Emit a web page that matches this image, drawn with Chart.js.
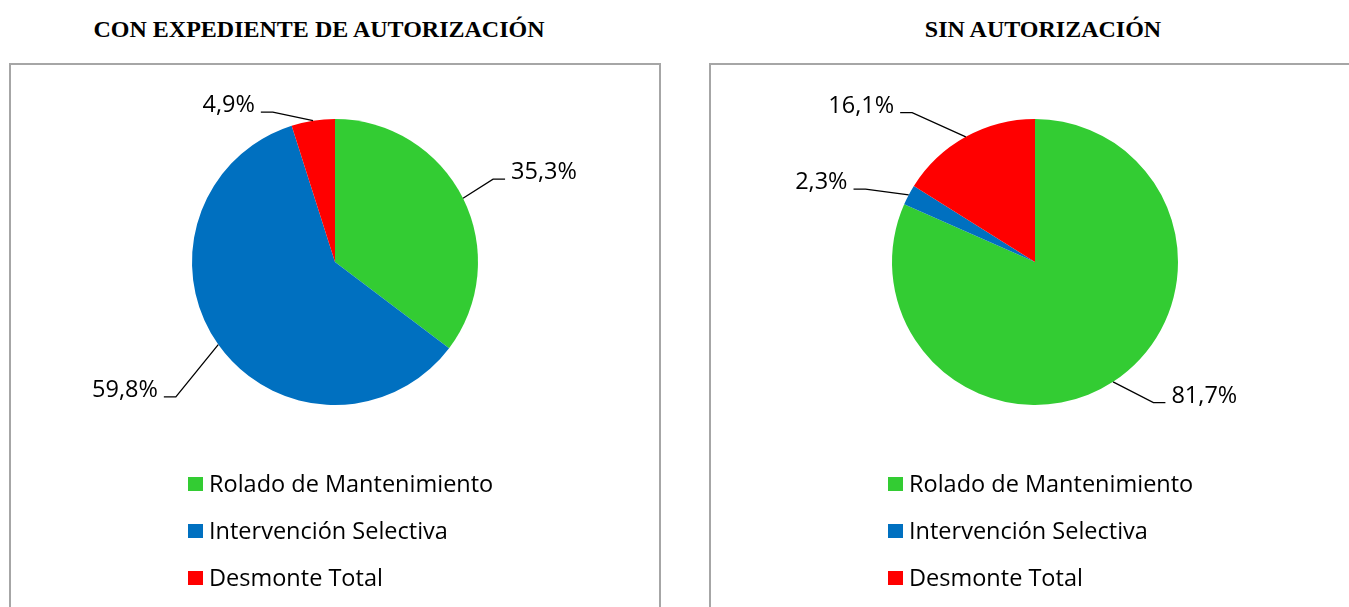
<!DOCTYPE html>
<html><head><meta charset="utf-8">
<script src="https://cdn.jsdelivr.net/npm/chart.js@4"></script>
<style>
html,body{margin:0;padding:0;background:#fff;overflow:hidden;width:1349px;height:607px;}
.title{position:absolute;font-family:"Liberation Serif","Times New Roman",serif;font-weight:bold;font-size:24px;line-height:28px;color:#000;white-space:nowrap;transform:translateX(-50%);top:15px;}
.box{position:absolute;top:63px;width:648px;height:560px;border:2px solid #a6a6a6;}
canvas{display:block;}
</style></head><body>
<div class="title" id="t1" style="left:319px"></div>
<div class="title" id="t2" style="left:1043px"></div>
<div class="box" style="left:9px"><canvas id="c1" width="648" height="542"></canvas></div>
<div class="box" style="left:709px"><canvas id="c2" width="648" height="542"></canvas></div>
<script>
const categories = ["Rolado de Mantenimiento", "Intervención Selectiva", "Desmonte Total"];
const conExpediente = [35.3, 59.8, 4.9];
const sinAutorizacion = [81.7, 2.3, 16.1];
const chartTitles = ["CON EXPEDIENTE DE AUTORIZACIÓN", "SIN AUTORIZACIÓN"];
const sliceColors = ["#33CC33", "#0070C0", "#FF0000"];
// leader-line layout: radial factor of elbow, angle tweak (deg)
const layoutCon = [{k:1.248, da:-1.2}, {k:1.459, da:-5}, {k:1.135, da:-13.7}];
const layoutSin = [{k:1.286, da:-7}, {k:1.29, da:-4.7}, {k:1.352, da:-10.5}];

document.getElementById('t1').textContent = chartTitles[0];
document.getElementById('t2').textContent = chartTitles[1];

const LABEL_FONT = '23.5px "Open Sans", Lato, sans-serif';

function makeLabelPlugin(layout){
  return {
    id:'leaderLabels',
    afterDatasetsDraw(chart){
      const ctx = chart.ctx;
      const meta = chart.getDatasetMeta(0);
      const ds = chart.data.datasets[0];
      ctx.save();
      ctx.font = LABEL_FONT;
      ctx.fillStyle = '#000';
      ctx.strokeStyle = '#000';
      ctx.lineWidth = 1.3;
      meta.data.forEach((arc, i) => {
        const p = arc.getProps(['x','y','startAngle','endAngle','outerRadius'], true);
        const mid = (p.startAngle + p.endAngle) / 2;
        const L = layout[i];
        const a2 = mid + L.da * Math.PI / 180;
        const r = p.outerRadius;
        const ax = p.x + r * Math.cos(mid), ay = p.y + r * Math.sin(mid);
        const ex = p.x + L.k * r * Math.cos(a2), ey = p.y + L.k * r * Math.sin(a2);
        const dir = Math.cos(a2) >= 0 ? 1 : -1;
        const hx = ex + dir * 12;
        ctx.beginPath();
        ctx.moveTo(ax, ay); ctx.lineTo(ex, ey); ctx.lineTo(hx, ey);
        ctx.stroke();
        const txt = ds.data[i].toFixed(1).replace('.', ',') + '%';
        ctx.textBaseline = 'alphabetic';
        ctx.textAlign = dir > 0 ? 'left' : 'right';
        ctx.fillText(txt, hx + dir * 6, ey);
      });
      ctx.restore();
    }
  };
}

const legendPlugin = {
  id:'vertLegend',
  afterDraw(chart){
    const ctx = chart.ctx;
    const ds = chart.data.datasets[0];
    ctx.save();
    ctx.font = LABEL_FONT;
    ctx.textBaseline = 'alphabetic';
    ctx.textAlign = 'left';
    chart.data.labels.forEach((lab, i) => {
      const top = 412 + i * 47;
      ctx.fillStyle = ds.backgroundColor[i];
      ctx.fillRect(177, top, 15, 14);
      ctx.fillStyle = '#000';
      ctx.fillText(lab, 198, top + 15);
    });
    ctx.restore();
  }
};

function makeChart(id, values, layout){
  return new Chart(document.getElementById(id), {
    type:'pie',
    data:{
      labels: categories,
      datasets:[{data: values, backgroundColor: sliceColors, borderWidth:0, hoverOffset:0}]
    },
    options:{
      responsive:false,
      animation:false,
      layout:{padding:{top:54, bottom:202, left:0, right:0}},
      plugins:{legend:{display:false}, tooltip:{enabled:false}, title:{display:false}}
    },
    plugins:[makeLabelPlugin(layout), legendPlugin]
  });
}
makeChart('c1', conExpediente, layoutCon);
makeChart('c2', sinAutorizacion, layoutSin);
</script>
</body></html>
